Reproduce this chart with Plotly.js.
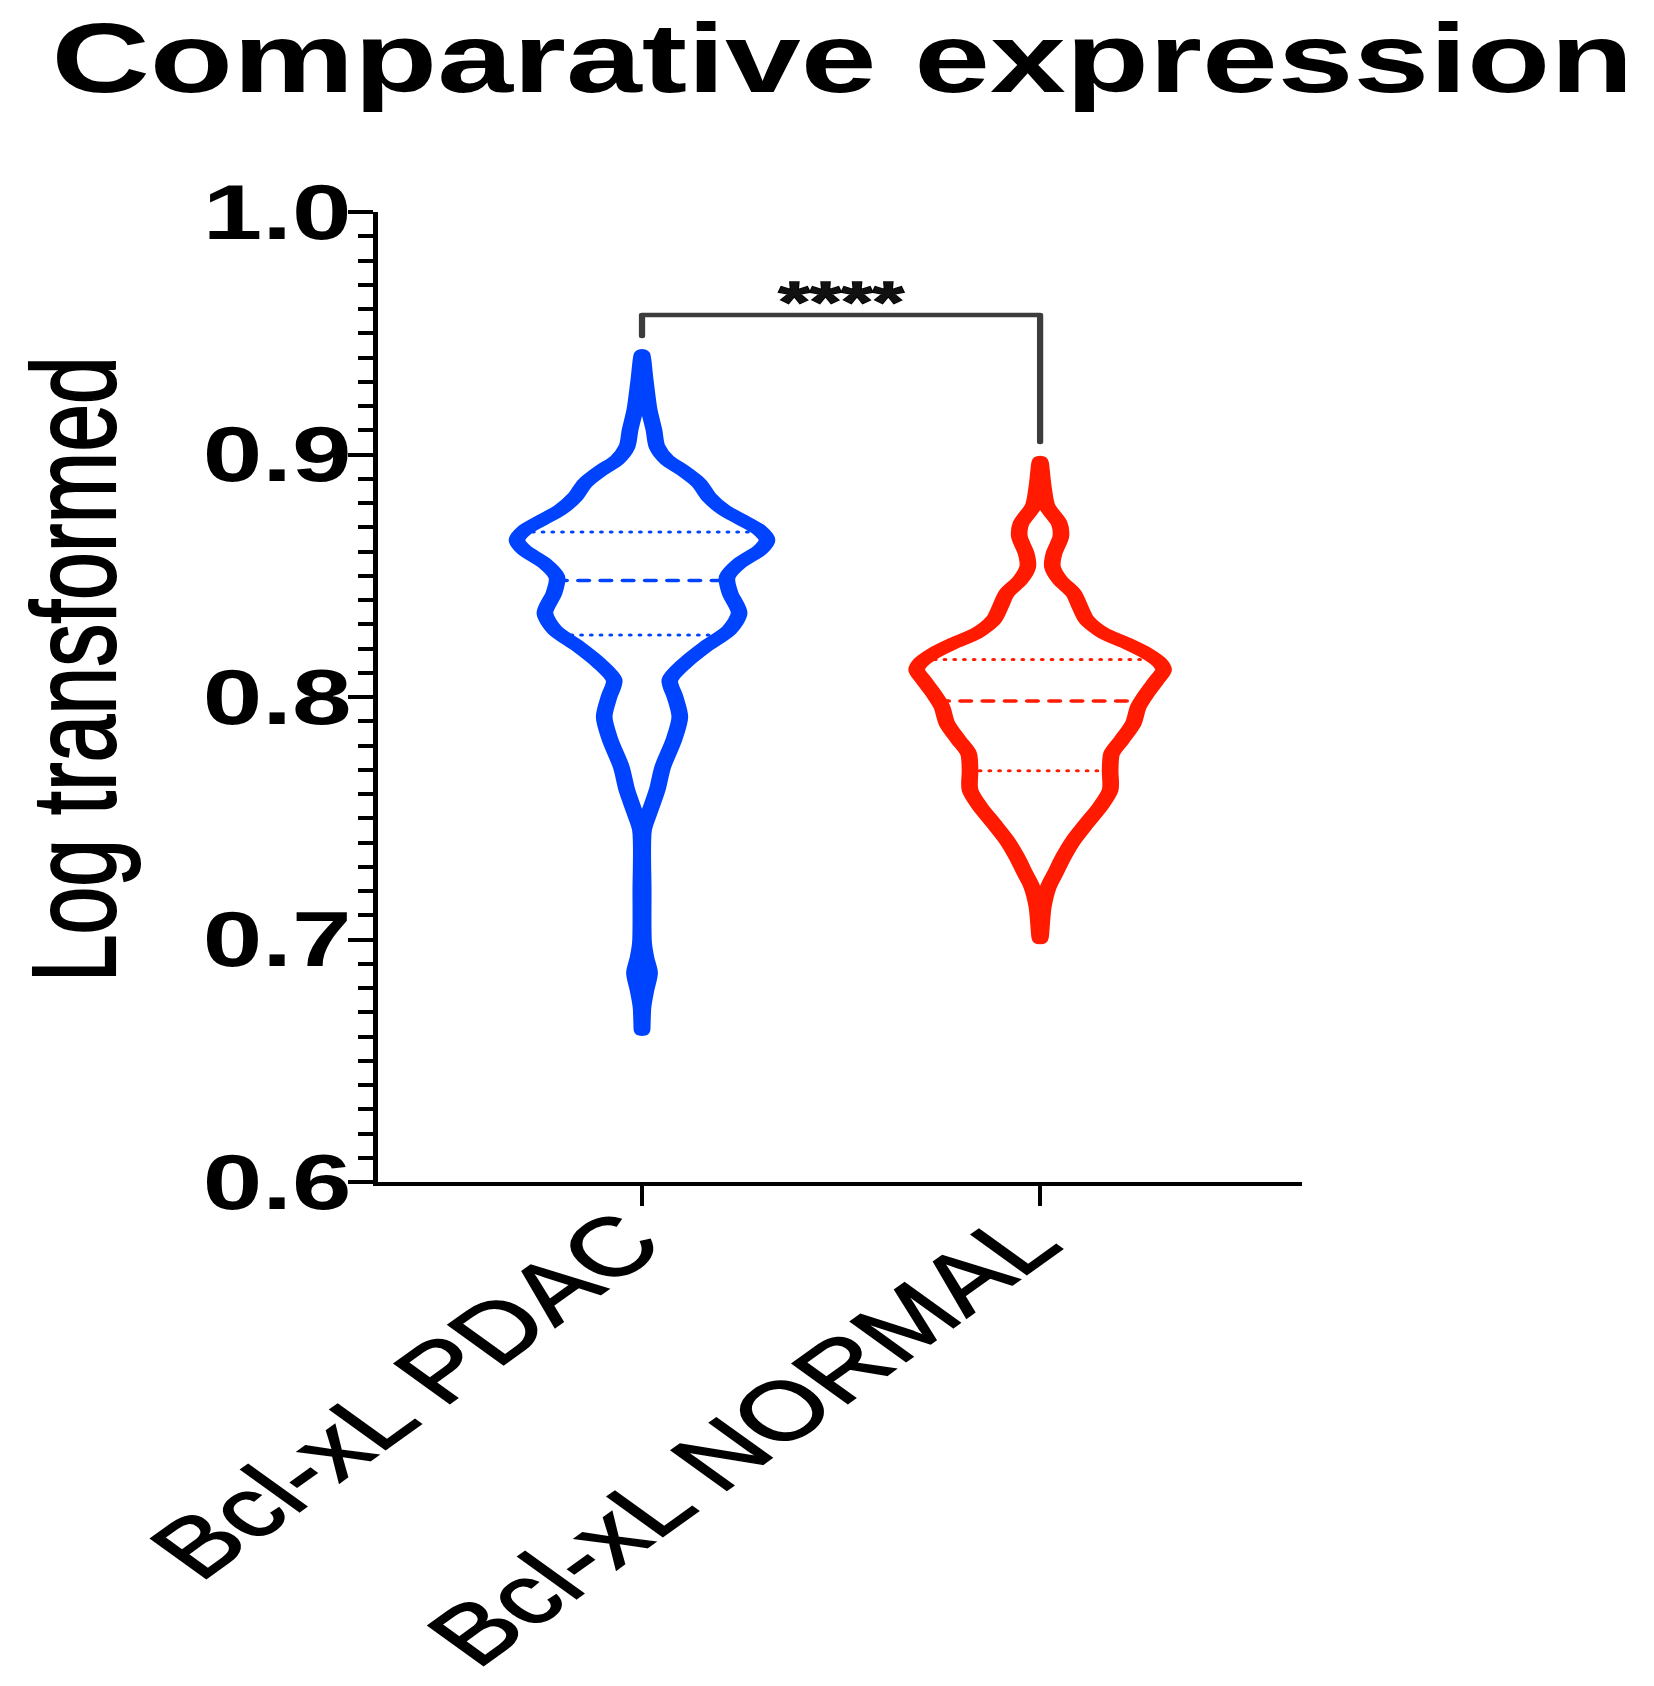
<!DOCTYPE html>
<html>
<head>
<meta charset="utf-8">
<script src="https://cdn.plot.ly/plotly-3.0.1.min.js"></script>
<style>
html,body{margin:0;padding:0;background:#fff;overflow:hidden;}
#wrap{width:1654px;height:1686px;overflow:hidden;}
#chart{width:1190px;height:1686px;transform:scaleX(1.39);transform-origin:0 0;}
#chart path.js-line{stroke-linejoin:round !important;stroke-linecap:round !important;}
#chart .xtick text, #chart .annotation-text{stroke:#000;stroke-width:1.5px;paint-order:stroke;}
</style>
</head>
<body>
<div id="wrap"><div id="chart"></div></div>
<script>
// ---- data ----
const groups = ['Bcl-xL PDAC', 'Bcl-xL NORMAL'];

// violin outline: value levels (bottom -> top) and half-widths (in category units)
const pdacLevels = [0.6627, 0.6722, 0.6792, 0.6862, 0.6924, 0.6986, 0.7200, 0.7452, 0.7522, 0.7616,
  0.7711, 0.7823, 0.7918, 0.8000, 0.8070, 0.8140, 0.8206, 0.8276, 0.8346, 0.8429,
  0.8495, 0.8553, 0.8606, 0.8647, 0.8689, 0.8730, 0.8771, 0.8825, 0.8882, 0.8936,
  0.8977, 0.9031, 0.9101, 0.9184, 0.9307, 0.9410];
const pdacHalfWidth = [0, 0.0025, 0.010, 0.019, 0.010, 0.004, 0.003, 0.004, 0.018, 0.038,
  0.052, 0.080, 0.095, 0.083, 0.070, 0.108, 0.158, 0.219, 0.244, 0.221,
  0.214, 0.246, 0.296, 0.314, 0.294, 0.251, 0.206, 0.168, 0.143, 0.101,
  0.063, 0.038, 0.030, 0.018, 0.008, 0];

const normalLevels = [0.7005, 0.7135, 0.7218, 0.7273, 0.7342, 0.7410, 0.7479, 0.7548, 0.7616, 0.7699,
  0.7768, 0.7823, 0.7891, 0.7960, 0.8015, 0.8070, 0.8111, 0.8139, 0.8180, 0.8221,
  0.8263, 0.8318, 0.8372, 0.8428, 0.8482, 0.8537, 0.8592, 0.8661, 0.8716, 0.8785,
  0.8867, 0.8970];
const normalHalfWidth = [0, 0.008, 0.021, 0.038, 0.059, 0.084, 0.117, 0.151, 0.176, 0.176,
  0.180, 0.205, 0.234, 0.247, 0.268, 0.293, 0.310, 0.302, 0.268, 0.218,
  0.159, 0.117, 0.100, 0.084, 0.050, 0.031, 0.035, 0.052, 0.048, 0.018,
  0.008, 0];

// quartiles: Q1, median, Q3
const pdacQuartiles = [0.8256, 0.8480, 0.8680];
const normalQuartiles = [0.7696, 0.7983, 0.8155];

const yTicks = [0.6, 0.7, 0.8, 0.9, 1.0];
const yTickLabels = ['0.6', '0.7', '0.8', '0.9', '1.0'];

const significanceText = '****';
const bracketX = [0, 0, 1, 1];
const bracketY = [0.9489, 0.9575, 0.9575, 0.9052];
const significanceY = 0.9632;

// ---- styles ----
const BLUE = '#0043ff';
const RED = '#ff1a00';
const FONT = 'Liberation Sans, Arial, Helvetica, sans-serif';

function outline(center, levels, hw) {
  const xs = [], ys = [];
  for (let i = 0; i < levels.length; i++) { xs.push(center - hw[i]); ys.push(levels[i]); }
  for (let i = levels.length - 2; i >= 0; i--) { xs.push(center + hw[i]); ys.push(levels[i]); }
  return {xs, ys};
}
function widthAt(levels, hw, v) {
  for (let i = 0; i < levels.length - 1; i++) {
    if (v >= levels[i] && v <= levels[i + 1]) {
      const t = (v - levels[i]) / (levels[i + 1] - levels[i]);
      return hw[i] + t * (hw[i + 1] - hw[i]);
    }
  }
  return 0;
}
function quartileTraces(center, levels, hw, qs, color) {
  return qs.map((q, k) => {
    const w = widthAt(levels, hw, q);
    const isMedian = k === 1;
    return {
      type: 'scatter', mode: 'lines',
      x: [center - w, center + w], y: [q, q],
      line: {color: color, width: isMedian ? 3.5 : 3, dash: isMedian ? '7.5px,8.5px' : '0.5px,6.5px'},
      hoverinfo: 'skip'
    };
  });
}

const traces = [];
traces.push(...quartileTraces(0, pdacLevels, pdacHalfWidth, pdacQuartiles, BLUE));
traces.push(...quartileTraces(1, normalLevels, normalHalfWidth, normalQuartiles, RED));

const po = outline(0, pdacLevels, pdacHalfWidth);
traces.push({type: 'scatter', mode: 'lines', x: po.xs, y: po.ys, name: groups[0],
  line: {color: BLUE, width: 12, shape: 'spline', smoothing: 0.8}, hoverinfo: 'skip'});
const no = outline(1, normalLevels, normalHalfWidth);
traces.push({type: 'scatter', mode: 'lines', x: no.xs, y: no.ys, name: groups[1],
  line: {color: RED, width: 12, shape: 'spline', smoothing: 0.8}, hoverinfo: 'skip'});

traces.push({type: 'scatter', mode: 'lines', x: bracketX, y: bracketY,
  line: {color: '#3c3c3c', width: 4.5}, hoverinfo: 'skip'});

const layout = {
  width: 1190, height: 1686,
  margin: {l: 272, r: 253, t: 212, b: 504, pad: 0},
  paper_bgcolor: '#ffffff', plot_bgcolor: '#ffffff',
  showlegend: false, hovermode: false,
  title: {
    text: 'Comparative expression',
    font: {family: FONT, size: 98, weight: 'bold', color: '#000'},
    x: 0.0311, xref: 'container', xanchor: 'left',
    y: 0.9861, yref: 'container', yanchor: 'top'
  },
  xaxis: {
    range: [-0.663, 1.659], tickmode: 'array', tickvals: [0, 1], ticktext: groups,
    tickangle: -45, ticks: 'outside', ticklen: 20, tickwidth: 3, tickcolor: '#000',
    ticklabelstandoff: -45, ticklabelshift: -11,
    showline: true, linecolor: '#000', linewidth: 3.7,
    showgrid: false, zeroline: false, fixedrange: true,
    tickfont: {family: FONT, size: 82, color: '#000'}
  },
  yaxis: {
    range: [0.6, 1.0], tickmode: 'array', tickvals: yTicks, ticktext: yTickLabels,
    ticks: 'outside', ticklen: 18, tickwidth: 4, tickcolor: '#000',
    ticklabelstandoff: -18,
    showline: true, linecolor: '#000', linewidth: 3.7,
    showgrid: false, zeroline: false, fixedrange: true,
    minor: {tickmode: 'linear', tick0: 0.6, dtick: 0.01, ticks: 'outside', ticklen: 11, tickwidth: 4, tickcolor: '#000', showgrid: false},
    tickfont: {family: FONT, size: 77, weight: 'bold', color: '#000'}
  },
  annotations: [
    {text: 'Log transformed', xref: 'paper', yref: 'paper', x: -0.330, y: 0.528,
     xanchor: 'center', yanchor: 'middle', textangle: -90, showarrow: false,
     font: {family: FONT, size: 86, color: '#000'}},
    {text: significanceText, xref: 'x', yref: 'y', x: 0.5, y: significanceY,
     xanchor: 'center', yanchor: 'middle', showarrow: false,
     font: {family: FONT, size: 58, weight: 'bold', color: '#111'}}
  ]
};

Plotly.newPlot('chart', traces, layout, {displayModeBar: false, staticPlot: true});
</script>
</body>
</html>
